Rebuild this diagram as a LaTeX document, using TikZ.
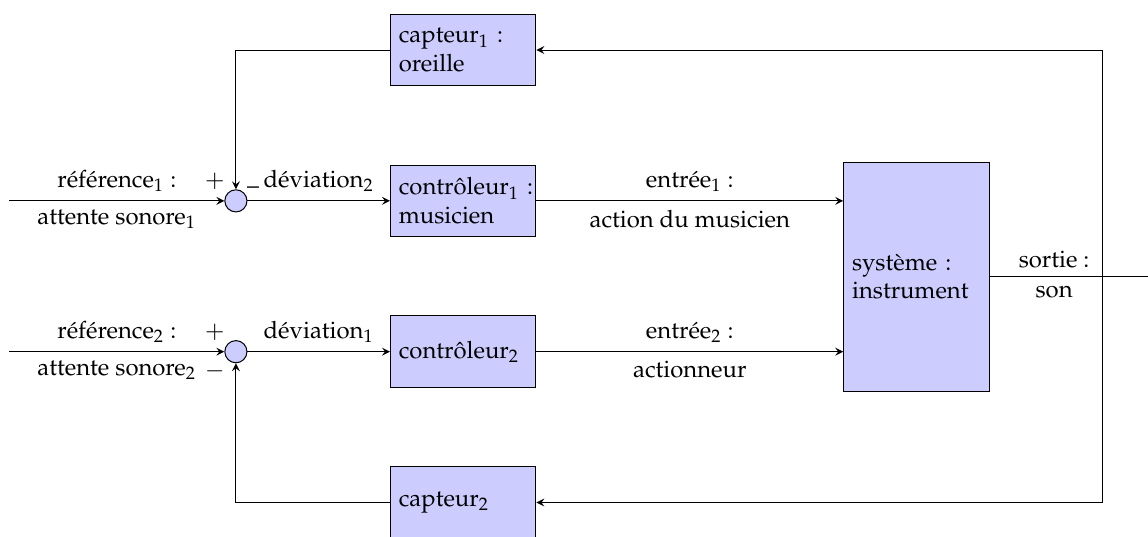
\documentclass[tikz,border=0pt]{standalone}
\usepackage[T1]{fontenc}
\usepackage{amsmath,amssymb,mathpazo}
\usepackage{tikz}
\usetikzlibrary{positioning,calc,arrows}
\tikzset{
  bloc/.style={draw, fill=blue!20, text width=1.8cm, align=left, minimum height=1cm},
  somme/.style={draw, circle, fill=blue!20, minimum size=0.31cm, inner sep=0pt},
  signe/.style={inner sep=1pt},
}
\newcommand{\rangA}{-0.70}
\newcommand{\rangB}{-2.81}
\newcommand{\rangC}{-4.92}
\newcommand{\rangD}{-7.03}

\begin{document}
\begin{tikzpicture}[>=stealth, font=\fontsize{9.5pt}{11.4pt}\selectfont]
  \useasboundingbox (0,0) rectangle (16.06,-7.51);

  \coordinate (e1) at (0.13, \rangB);
  \coordinate (e2) at (0.13, \rangC);

  \node [somme, label={[signe]above left:$+$}, label={[signe, yshift=-1.5pt]above right:--}] (s1) at (3.30, \rangB) {};
  \node [somme, label={[signe]above left:$+$}, label={[signe]below left:$-$}] (s2) at (3.30, \rangC) {};

  \node [bloc] (cap1) at (6.48, \rangA) {capteur$_1$ :\\oreille};
  \node [bloc] (ctr1) at (6.48, \rangB) {contrôleur$_1$~:\\musicien};
  \node [bloc] (ctr2) at (6.48, \rangC) {contrôleur$_2$};
  \node [bloc] (cap2) at (6.48, \rangD) {capteur$_2$};

  \node [bloc, minimum height=3.2cm] (sys) at (12.82, -3.87) {système :\\instrument};

  \coordinate (out) at (16.10, -3.87);
  \coordinate (ret) at (15.43, -3.87);

  \draw [->] (e1) -- node [above] {référence$_1$ :} node [below] {attente sonore$_1$} (s1);
  \draw [->] (e2) -- node [above] {référence$_2$ :} node [below] {attente sonore$_2$} (s2);

  \draw [->] (s1) -- node [above] {déviation$_2$} (ctr1);
  \draw [->] (s2) -- node [above] {déviation$_1$} (ctr2);

  \draw [->] (ctr1) -- node [above] {entrée$_1$ :} node [below] {action du musicien} (sys.west |- ctr1);
  \draw [->] (ctr2) -- node [above] {entrée$_2$ :} node [below] {actionneur} (sys.west |- ctr2);

  \draw (sys) -- node [above, pos=0.4] {sortie :} node [below, pos=0.4] {son} (out);

  \draw [->] (ret) |- (cap1);
  \draw [->] (ret) |- (cap2);
  \draw [->] (cap1) -| (s1);
  \draw [->] (cap2) -| (s2);
\end{tikzpicture}
\end{document}
